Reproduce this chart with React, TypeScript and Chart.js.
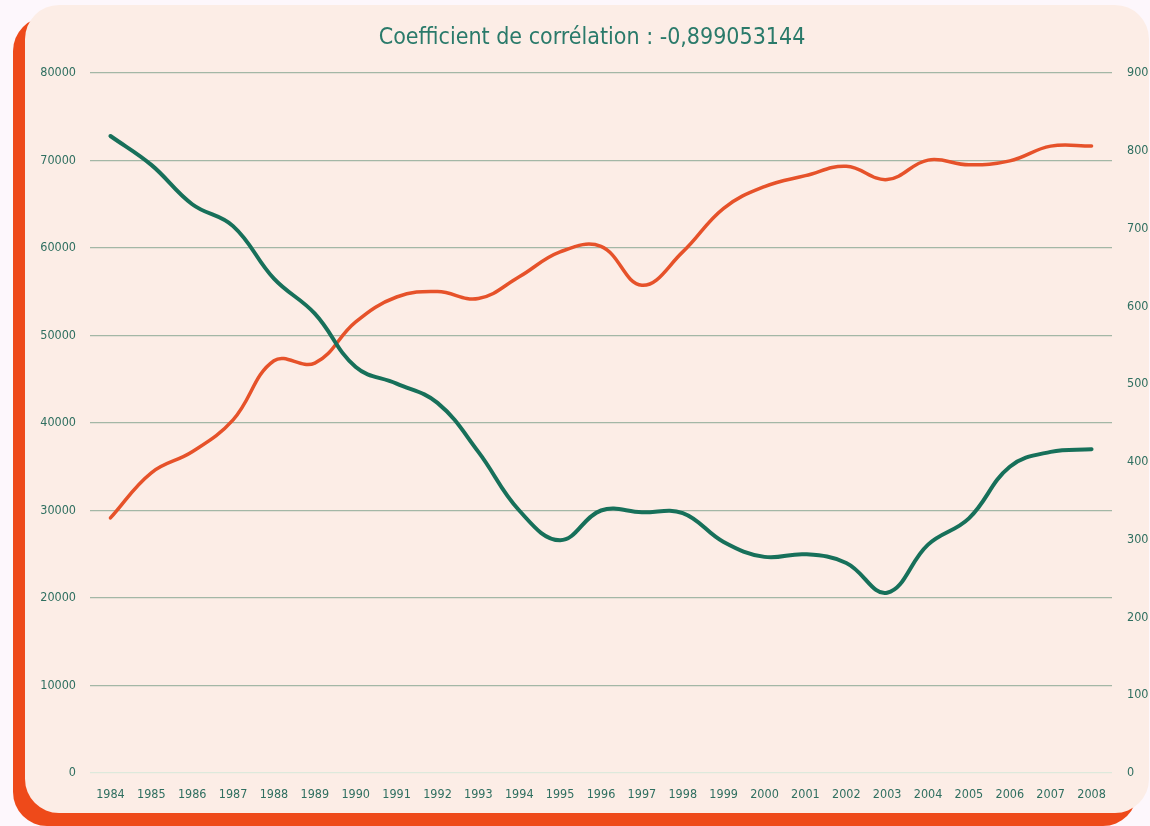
import React, { useEffect, useRef } from "react";
import { Chart, registerables } from "chart.js";

Chart.register(...registerables);

const years = [
  "1984", "1985", "1986", "1987", "1988", "1989", "1990", "1991", "1992", "1993",
  "1994", "1995", "1996", "1997", "1998", "1999", "2000", "2001", "2002", "2003",
  "2004", "2005", "2006", "2007", "2008",
];

const greenSeries = [
  72800, 69500, 65000, 62500, 56500, 52500, 46400, 44500, 42300, 36700,
  30000, 26600, 30000, 29800, 29700, 26400, 24700, 25000, 24000, 20600,
  26100, 29100, 35000, 36700, 37000,
];

const orangeSeries = [
  328, 386, 413, 454, 530, 527, 580, 612, 619, 610,
  638, 670, 677, 627, 670, 726, 754, 768, 780, 763,
  788, 782, 787, 806, 806,
];

const titleText = "Coefficient de corrélation : -0,899053144";

const FONT = '"DejaVu Sans Condensed", "Liberation Sans Narrow", "DejaVu Sans", sans-serif';

const titlePlugin = {
  id: "customTitle",
  afterDraw(chart: any) {
    const ctx = chart.ctx;
    ctx.save();
    ctx.font = `23px ${FONT}`;
    ctx.fillStyle = "#2a7a6a";
    ctx.textAlign = "center";
    ctx.textBaseline = "middle";
    ctx.fillText(titleText, 592, 38);
    ctx.restore();
  },
};

export default function App() {
  const ref = useRef<HTMLCanvasElement | null>(null);

  useEffect(() => {
    if (!ref.current) return;
    const chart = new Chart(ref.current, {
      type: "line",
      data: {
        labels: years,
        datasets: [
          {
            label: "Série verte",
            data: greenSeries,
            yAxisID: "y",
            borderColor: "#17705a",
            backgroundColor: "#17705a",
            borderWidth: 4,
            pointRadius: 0,
            tension: 0.4,
            borderCapStyle: "round",
          },
          {
            label: "Série orange",
            data: orangeSeries,
            yAxisID: "y1",
            borderColor: "#e6522a",
            backgroundColor: "#e6522a",
            borderWidth: 3.5,
            pointRadius: 0,
            tension: 0.4,
            borderCapStyle: "round",
          },
        ],
      },
      plugins: [titlePlugin],
      options: {
        responsive: false,
        animation: false,
        layout: { padding: { top: 73 } },
        plugins: {
          legend: { display: false },
          tooltip: { enabled: false },
          title: { display: false },
        },
        scales: {
          x: {
            offset: true,
            grid: { display: false, drawTicks: false },
            border: { display: false },
            ticks: {
              color: "#2f6f60",
              font: { family: FONT, size: 12.5 },
              padding: 14,
              maxRotation: 0,
              autoSkip: false,
            },
            afterFit: (s: any) => {
              s.height = 53;
            },
          },
          y: {
            position: "left",
            min: 0,
            max: 80000,
            ticks: {
              stepSize: 10000,
              color: "#2f6f60",
              font: { family: FONT, size: 12.5 },
              padding: 14,
              callback: (v: any) => String(v),
            },
            grid: {
              drawTicks: false,
              color: (ctx: any) => (ctx.tick && ctx.tick.value === 0 ? "#dde9dc" : "#a3b7a6"),
              lineWidth: 1.3,
            },
            border: { display: false },
            afterFit: (s: any) => {
              s.width = 90;
            },
          },
          y1: {
            position: "right",
            min: 0,
            max: 900,
            ticks: {
              stepSize: 100,
              color: "#2f6f60",
              font: { family: FONT, size: 12.5 },
              padding: 15,
            },
            grid: { display: false, drawTicks: false },
            border: { display: false },
            afterFit: (s: any) => {
              s.width = 38;
            },
          },
        },
      },
    });
    return () => chart.destroy();
  }, []);

  return (
    <div
      style={{
        position: "fixed",
        left: 0,
        top: 0,
        width: 1150,
        height: 826,
        background: "#fdf7fc",
        overflow: "hidden",
      }}
    >
      <div
        style={{
          position: "absolute",
          left: 13,
          top: 17,
          width: 1124,
          height: 809,
          background: "#ee4a1a",
          borderRadius: 34,
        }}
      />
      <div
        style={{
          position: "absolute",
          left: 25,
          top: 5,
          width: 1124,
          height: 808,
          background: "#fcede6",
          borderRadius: 34,
        }}
      />
      <canvas
        ref={ref}
        width={1150}
        height={826}
        style={{ position: "absolute", left: 0, top: 0, width: 1150, height: 826 }}
      />
    </div>
  );
}
